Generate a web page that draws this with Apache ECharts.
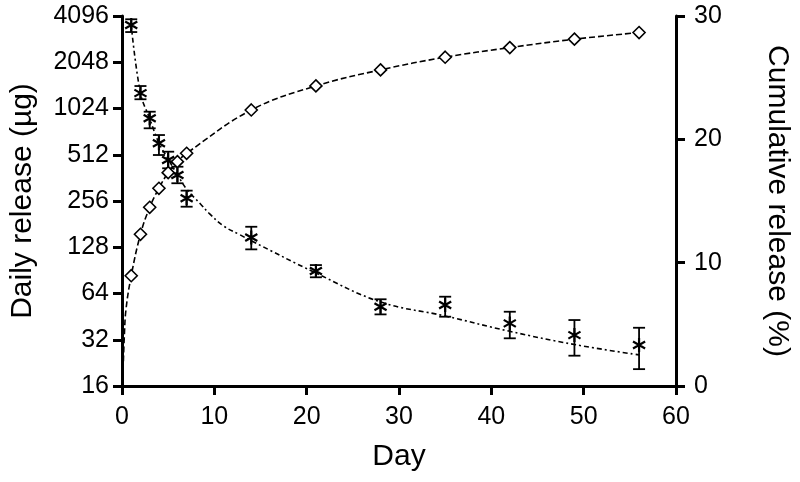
<!DOCTYPE html>
<html>
<head>
<meta charset="utf-8">
<script src="https://cdn.jsdelivr.net/npm/echarts@6/dist/echarts.min.js"></script>
<style>html,body{margin:0;padding:0;background:#fff}#c{width:800px;height:482px}</style>
</head>
<body>
<div id="c"></div>
<script>
// ---- data ----
var days = [1, 2, 3, 4, 5, 6, 7, 14, 21, 28, 35, 42, 49, 56];
var dailyRelease = [3580, 1290, 884, 608, 473, 378, 267, 148, 89.7, 52.5, 53.9, 40.9, 34.3, 29.6];
var dailyLow = [3220, 1176, 761, 510, 418, 334, 235, 124, 81.6, 46.8, 45.2, 32.7, 25.2, 20.6];
var dailyHigh = [3900, 1434, 976, 688, 536, 428, 299, 174, 98, 58.7, 61, 48.7, 43, 38.3];
var cumulativeRelease = [8.94, 12.3, 14.49, 16.03, 17.3, 18.19, 18.87, 22.38, 24.33, 25.63, 26.66, 27.44, 28.12, 28.66];
var dailyFitDays = [1, 2, 3, 4, 5, 6, 7, 8.5, 9.5, 11, 12.8, 14, 21, 28, 35, 42, 49, 56];
var dailyFit = [3580, 1290, 880, 610, 480, 380, 306, 245, 211, 176, 154, 141, 87, 56.4, 45.7, 36.3, 29.8, 25.5];
var cumFitDays = [0.15, 0.25, 0.43, 1, 2, 3, 4, 5, 6, 7, 14, 21, 28, 35, 42, 49, 56];
var cumFit = [2.0, 4.0, 6.2, 8.94, 12.3, 14.49, 16.03, 17.3, 18.19, 18.87, 22.38, 24.33, 25.63, 26.66, 27.44, 28.12, 28.66];
var xTicks = [0, 10, 20, 30, 40, 50, 60];
var leftTicks = [16, 32, 64, 128, 256, 512, 1024, 2048, 4096];
var rightTicks = [0, 10, 20, 30];

var FONT = "'Liberation Sans', Arial, Helvetica, sans-serif";
function zip(a, b) { return a.map(function (v, i) { return [v, b[i]]; }); }
var starPath = 'path://M5,0L5,10M0.67,2.5L9.33,7.5M0.67,7.5L9.33,2.5';

var axisCommon = {
  axisLine: { show: true, lineStyle: { color: '#000', width: 3 } },
  axisTick: { show: true, inside: false, length: 9, lineStyle: { color: '#000', width: 3 } },
  splitLine: { show: false },
  axisLabel: { color: '#000', fontSize: 25, fontFamily: FONT },
  nameTextStyle: { color: '#000', fontSize: 30, fontFamily: FONT }
};

var chart = echarts.init(document.getElementById('c'), null, { renderer: 'canvas' });
chart.setOption({
  animation: false,
  backgroundColor: '#fff',
  grid: { left: 121, right: 124, top: 16, bottom: 96, containLabel: false },
  xAxis: Object.assign({}, axisCommon, {
    type: 'value', min: xTicks[0], max: xTicks[xTicks.length - 1], interval: 10,
    name: 'Day', nameLocation: 'middle', nameGap: 56,
    axisLabel: Object.assign({}, axisCommon.axisLabel, { margin: 19 })
  }),
  yAxis: [
    Object.assign({}, axisCommon, {
      type: 'log', logBase: 2, min: leftTicks[0], max: leftTicks[leftTicks.length - 1], interval: 1,
      position: 'left',
      name: 'Daily release (µg)', nameLocation: 'middle', nameGap: 84, nameRotate: 90,
      axisLabel: Object.assign({}, axisCommon.axisLabel, {
        margin: 13,
        formatter: function (v) { return String(Math.round(v)); }
      })
    }),
    Object.assign({}, axisCommon, {
      type: 'value', min: rightTicks[0], max: rightTicks[rightTicks.length - 1], interval: 10,
      position: 'right',
      name: 'Cumulative release (%)', nameLocation: 'middle', nameGap: 86, nameRotate: -90,
      axisLabel: Object.assign({}, axisCommon.axisLabel, { margin: 18 })
    })
  ],
  series: [
    {
      type: 'line', yAxisIndex: 1, data: zip(cumFitDays, cumFit), smooth: 0.4,
      showSymbol: false, symbol: 'none',
      lineStyle: { color: '#000', width: 1.6, type: [6, 3] }, z: 2
    },
    {
      type: 'line', yAxisIndex: 0, data: zip(dailyFitDays, dailyFit), smooth: 0.4,
      showSymbol: false, symbol: 'none',
      lineStyle: { color: '#000', width: 1.6, type: [5, 3, 2, 3] }, z: 2
    },
    {
      type: 'custom', yAxisIndex: 0, z: 3,
      data: days.map(function (d, i) { return [d, dailyLow[i], dailyHigh[i]]; }),
      renderItem: function (params, api) {
        var lo = api.coord([api.value(0), api.value(1)]);
        var hi = api.coord([api.value(0), api.value(2)]);
        var w = 6;
        var st = { stroke: '#000', lineWidth: 1.8, fill: null };
        return {
          type: 'group', children: [
            { type: 'line', shape: { x1: lo[0], y1: lo[1], x2: hi[0], y2: hi[1] }, style: st },
            { type: 'line', shape: { x1: lo[0] - w, y1: lo[1], x2: lo[0] + w, y2: lo[1] }, style: st },
            { type: 'line', shape: { x1: hi[0] - w, y1: hi[1], x2: hi[0] + w, y2: hi[1] }, style: st }
          ]
        };
      }
    },
    {
      type: 'scatter', yAxisIndex: 0, data: zip(days, dailyRelease),
      symbol: starPath, symbolSize: 14, symbolKeepAspect: true,
      itemStyle: { color: '#000', borderColor: '#000', borderWidth: 2.2, opacity: 1 }, z: 4
    },
    {
      type: 'scatter', yAxisIndex: 1, data: zip(days, cumulativeRelease),
      symbol: 'diamond', symbolSize: [12, 12],
      itemStyle: { color: '#fff', borderColor: '#000', borderWidth: 1.6, opacity: 1 }, z: 5
    }
  ]
});
</script>
</body>
</html>
